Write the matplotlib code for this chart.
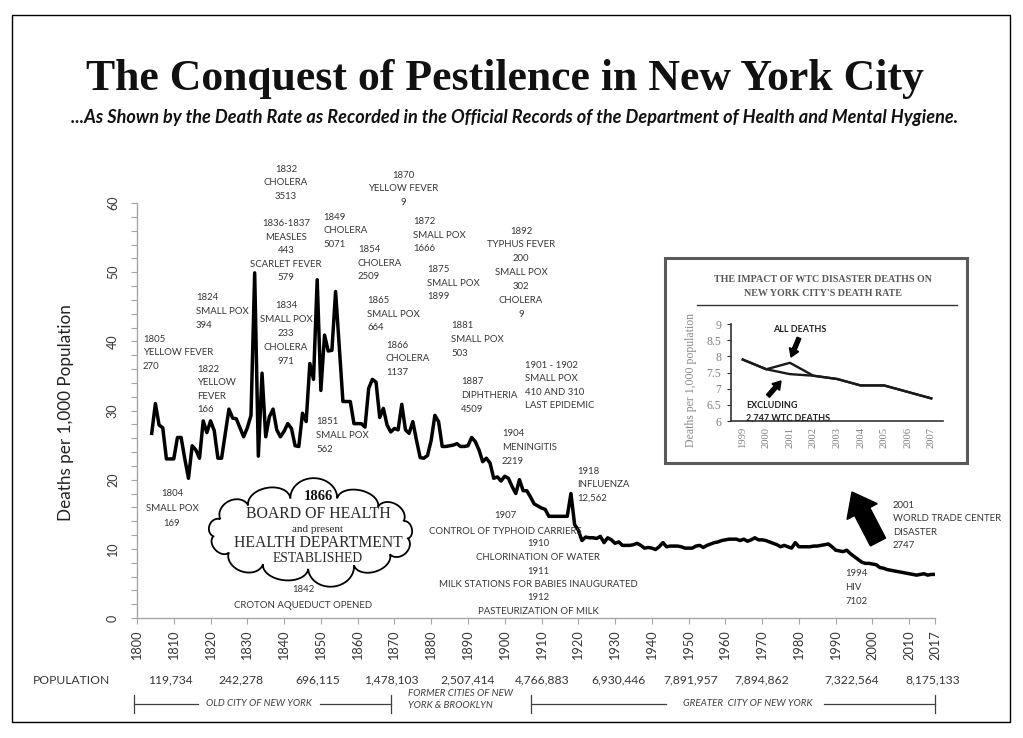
import matplotlib
matplotlib.use('Agg')
import matplotlib.pyplot as plt
import numpy as np
from matplotlib.path import Path
from matplotlib.patches import PathPatch, FancyArrow, Rectangle

# ---------------- data ----------------
years = [1804, 1805, 1806, 1807, 1808, 1809, 1810, 1811, 1812, 1813, 1814, 1815,
         1816, 1817, 1818, 1819, 1820, 1821, 1822, 1823, 1825, 1826, 1827, 1828,
         1829, 1830, 1831, 1832, 1833, 1834, 1835, 1836, 1837, 1838, 1839, 1840,
         1841, 1842, 1843, 1844, 1845, 1846, 1847, 1848, 1849, 1850, 1851, 1852,
         1853, 1854, 1855, 1856, 1857, 1858, 1859, 1860, 1861, 1862, 1863, 1864,
         1865, 1866, 1867, 1868, 1869, 1870, 1871, 1872, 1873, 1874, 1875, 1876,
         1877, 1878, 1879, 1880, 1881, 1882, 1883, 1884, 1885, 1886, 1887, 1888,
         1889, 1890, 1891, 1892, 1893, 1894, 1895, 1896, 1897, 1898, 1899, 1900,
         1901, 1902, 1903, 1904, 1905, 1906, 1907, 1908, 1909, 1910, 1911, 1912,
         1913, 1914, 1915, 1916, 1917, 1918, 1919, 1920, 1921, 1922, 1923, 1924,
         1925, 1926, 1927, 1928, 1929, 1930, 1931, 1932, 1933, 1934, 1935, 1936,
         1937, 1938, 1939, 1940, 1941, 1942, 1943, 1944, 1945, 1946, 1947, 1948,
         1949, 1950, 1951, 1952, 1953, 1954, 1955, 1956, 1957, 1958, 1959, 1960,
         1961, 1962, 1963, 1964, 1965, 1966, 1967, 1968, 1969, 1970, 1971, 1972,
         1973, 1974, 1975, 1976, 1977, 1978, 1979, 1980, 1981, 1982, 1983, 1984,
         1985, 1986, 1987, 1988, 1989, 1990, 1991, 1992, 1993, 1994, 1995, 1996,
         1997, 1998, 1999, 2000, 2001, 2002, 2003, 2004, 2005, 2006, 2007, 2008,
         2009, 2010, 2011, 2012, 2013, 2014, 2015, 2016, 2017]
rates = [26.7, 31.0, 27.9, 27.5, 23.0, 23.0, 23.0, 26.1, 26.1, 23.0, 20.2, 24.9,
         24.3, 23.1, 28.5, 26.8, 28.5, 27.1, 23.1, 23.1, 30.2, 28.9, 28.8, 27.5,
         26.2, 27.5, 29.3, 49.9, 23.4, 35.4, 26.2, 29.1, 30.2, 27.2, 26.2, 27.0,
         28.1, 27.4, 24.9, 24.8, 29.6, 28.4, 36.8, 34.5, 48.9, 32.9, 40.9, 38.6,
         38.7, 47.2, 39.2, 31.3, 31.3, 31.3, 28.1, 28.1, 28.1, 27.6, 33.2, 34.5,
         34.1, 29.0, 30.3, 27.9, 26.9, 27.4, 27.2, 30.9, 27.2, 26.7, 28.4, 25.7,
         23.2, 23.1, 23.5, 25.7, 29.3, 28.4, 24.8, 24.8, 24.9, 25.0, 25.2, 24.8,
         24.8, 24.9, 26.1, 25.5, 24.3, 22.6, 23.1, 22.4, 20.2, 20.4, 19.8, 20.5,
         20.2, 19.0, 18.0, 20.0, 18.4, 18.4, 17.5, 16.5, 16.2, 15.9, 15.7, 14.7,
         14.7, 14.7, 14.7, 14.7, 14.7, 18.0, 13.5, 12.7, 11.2, 11.7, 11.6, 11.6,
         11.5, 11.8, 10.9, 11.6, 11.3, 10.8, 11.0, 10.5, 10.5, 10.5, 10.6, 10.8,
         10.5, 10.1, 10.2, 10.1, 9.9, 10.3, 10.9, 10.3, 10.4, 10.4, 10.4, 10.3,
         10.1, 10.1, 10.1, 10.4, 10.5, 10.2, 10.5, 10.7, 10.9, 11.0, 11.2, 11.3,
         11.4, 11.4, 11.4, 11.2, 11.4, 11.1, 11.3, 11.6, 11.3, 11.3, 11.2, 11.0,
         10.8, 10.6, 10.3, 10.5, 10.3, 10.1, 10.9, 10.3, 10.3, 10.3, 10.3, 10.4,
         10.4, 10.5, 10.6, 10.7, 10.3, 9.8, 9.7, 9.6, 9.8, 9.3, 8.9, 8.5,
         8.1, 7.9, 7.9, 7.8, 7.7, 7.3, 7.2, 7.0, 6.9, 6.8, 6.7, 6.6,
         6.5, 6.4, 6.3, 6.2, 6.3, 6.4, 6.2, 6.3, 6.3]

x_ticks = [1800, 1810, 1820, 1830, 1840, 1850, 1860, 1870, 1880, 1890, 1900,
           1910, 1920, 1930, 1940, 1950, 1960, 1970, 1980, 1990, 2000, 2010, 2017]
y_ticks = [0, 10, 20, 30, 40, 50, 60]

inset_years = ['1999', '2000', '2001', '2002', '2003', '2004', '2005', '2006', '2007']
inset_all = [7.9, 7.6, 7.8, 7.4, 7.3, 7.1, 7.1, 6.9, 6.7]
inset_excl = [7.9, 7.6, 7.45, 7.4, 7.3, 7.1, 7.1, 6.9, 6.7]
inset_yticks = [6, 6.5, 7, 7.5, 8, 8.5, 9]
inset_ylabels = ['6', '6.5', '7', '7.5', '8', '8.5', '9']

population = ['119,734', '242,278', '696,115', '1,478,103', '2,507,414', '4,766,883',
              '6,930,446', '7,891,957', '7,894,862', '7,322,564', '8,175,133']
pop_x = [170, 241, 318, 391, 468, 542, 619, 691, 762, 852, 933]  # layout (px)

W, H = 1023, 738
fig = plt.figure(figsize=(W / 100, H / 100), dpi=100)
fig.patch.set_facecolor('white')

SANS = ['Lato', 'DejaVu Sans']
SERIF = ['Liberation Serif', 'DejaVu Serif']
TXT = '#363636'

def fx(px):
    return px / W

def fy(py):
    return 1 - py / H

# ---------------- main axes ----------------
ax = fig.add_axes([fx(137), fy(618), (935 - 137) / W, (618 - 203) / H])
ax.plot(years, rates, color='black', lw=2.5, solid_joinstyle='round')
ax.set_xlim(1800, 2017)
ax.set_ylim(0, 60)
for s in ['top', 'right']:
    ax.spines[s].set_visible(False)
for s in ['left', 'bottom']:
    ax.spines[s].set_color('#a6a6a6')
    ax.spines[s].set_linewidth(1.0)
ax.set_xticks(x_ticks)
ax.set_xticklabels([str(t) for t in x_ticks], rotation=90, fontsize=9.2,
                   family=SANS, color=TXT)
ax.set_yticks(y_ticks)
ax.set_yticklabels([str(t) for t in y_ticks], rotation=90, va='center',
                   fontsize=9, family=SANS, color=TXT)
ax.set_yticks(np.arange(0, 61, 2), minor=True)
ax.tick_params(axis='both', which='both', color='#a6a6a6', length=4, width=0.8)
ax.tick_params(axis='y', pad=9)
ax.tick_params(axis='x', pad=5)

# ---------------- inset axes ----------------
ia = fig.add_axes([fx(731), fy(421), (943 - 731) / W, (421 - 324) / H])
xi = np.arange(len(inset_years))
ia.plot(xi, inset_all, color='#1a1a1a', lw=1.7)
ia.plot(xi, inset_excl, color='#1a1a1a', lw=1.7)
ia.set_xlim(-0.5, len(inset_years) - 0.5)
ia.set_ylim(6, 9)
ia.set_xticks(xi)
ia.set_xticklabels(inset_years, rotation=90, fontsize=7.6, family=SERIF, color='#808080')
ia.set_yticks(inset_yticks)
ia.set_yticklabels(inset_ylabels, fontsize=8.5, family=SERIF, color='#808080')
for s in ['top', 'right']:
    ia.spines[s].set_visible(False)
for s in ['left', 'bottom']:
    ia.spines[s].set_color('#333333')
    ia.spines[s].set_linewidth(1.2)
ia.tick_params(axis='y', length=3, color='#333333', pad=4)
ia.tick_params(axis='x', length=0, pad=4)

# ---------------- overlay (pixel coordinates) ----------------
ov = fig.add_axes([0, 0, 1, 1])
ov.set_xlim(0, W)
ov.set_ylim(H, 0)
ov.axis('off')
ov.patch.set_alpha(0)
ov.set_zorder(10)

# outer border
ov.add_patch(Rectangle((12, 15), 998, 707, fill=False, edgecolor='black', lw=1.0))

# titles
ov.text(505, 79, 'The Conquest of Pestilence in New York City', ha='center', va='center',
        fontsize=31.5, family=SERIF, fontweight='bold', color='#111111')
ov.text(515, 118, '...As Shown by the Death Rate as Recorded in the Official Records of '
        'the Department of Health and Mental Hygiene.', ha='center', va='center',
        fontsize=13.1, family=SANS, fontweight='bold', style='italic', color='#111111')

# y label
ov.text(66, 413, 'Deaths per 1,000 Population', rotation=90, ha='center', va='center',
        fontsize=12.3, family=SANS, color='#222222')

LS = 13.6
AFS = 6.9

def block(txt, x, y, ha='left', fs=AFS, ls=LS, color=TXT, **kw):
    for i, line in enumerate(txt.split('\n')):
        ov.text(x, y + i * ls, line, ha=ha, va='center', fontsize=fs,
                family=SANS, color=color, **kw)

block('1832\nCHOLERA\n3513', 286, 169, ha='center')
block('1870\nYELLOW FEVER\n9', 403, 175, ha='center')
block('1836-1837\nMEASLES\n443\nSCARLET FEVER\n579', 286, 223.5, ha='center')
block('1849\nCHOLERA\n5071', 323, 217)
block('1854\nCHOLERA\n2509', 358, 249.5)
block('1872\nSMALL POX\n1666', 413, 221.5)
block('1892\nTYPHUS FEVER\n200\nSMALL POX\n302\nCHOLERA\n9', 521, 231, ha='center', ls=13.9)
block('1875\nSMALL POX\n1899', 427, 269.5)
block('1824\nSMALL POX\n394', 196, 298)
block('1834\nSMALL POX\n233\nCHOLERA\n971', 286, 306, ha='center', ls=13.9)
block('1865\nSMALL POX\n664', 367, 300.5)
block('1881\nSMALL POX\n503', 451, 326)
block('1805\nYELLOW FEVER\n270', 143, 339)
block('1866\nCHOLERA\n1137', 386, 345)
block('1822\nYELLOW\nFEVER\n166', 197, 369)
block('1901 - 1902\nSMALL POX\n410 AND 310\nLAST EPIDEMIC', 525, 365)
block('1887\nDIPHTHERIA\n4509', 461, 382)
block('1851\nSMALL POX\n562', 316, 422)
block('1904\nMENINGITIS\n2219', 502, 434)
block('1918\nINFLUENZA\n12,562', 577, 471)
block('1804\nSMALL POX\n169', 172, 494, ha='center', ls=14.8)
block('2001\nWORLD TRADE CENTER\nDISASTER\n2747', 893, 505)
block('1907\nCONTROL OF TYPHOID CARRIERS', 505, 516, ha='center', ls=15)
block('1910\nCHLORINATION OF WATER\n1911\nMILK STATIONS FOR BABIES INAUGURATED\n1912\n'
      'PASTEURIZATION OF MILK', 538, 544, ha='center', ls=13.5)
block('1994\nHIV\n7102', 845, 574)
block('1842\nCROTON AQUEDUCT OPENED', 303, 590, ha='center', ls=15)

# cloud
def cloud_verts(cx, cy, rx, ry, n, bulge, phase):
    ang = np.linspace(0, 2 * np.pi, n + 1) + phase
    pts = np.column_stack([cx + rx * np.cos(ang), cy + ry * np.sin(ang)])
    out = []
    for i in range(n):
        p0, p1 = pts[i], pts[i + 1]
        mid = (p0 + p1) / 2
        r = np.linalg.norm(p1 - p0) / 2
        u = (p0 - mid) / r
        nrm = np.array([u[1], -u[0]])
        if np.dot(nrm, mid - np.array([cx, cy])) < 0:
            nrm = -nrm
        t = np.linspace(0, np.pi, 24)
        h = bulge[i % len(bulge)] * r
        seg = mid + np.outer(np.cos(t), u) * r + np.outer(np.sin(t), nrm) * h
        out.append(seg)
    return np.vstack(out)

cv = cloud_verts(311, 533, 98, 36, 13, [0.8, 0.65, 0.85, 0.6, 0.75, 0.7, 0.85], 0.15)
codes = [Path.MOVETO] + [Path.LINETO] * (len(cv) - 2) + [Path.CLOSEPOLY]
ov.add_patch(PathPatch(Path(cv, codes), facecolor='white', edgecolor='black', lw=1.3))
CT = '#2a2a2a'
ov.text(318, 497, '1866', ha='center', va='center', fontsize=10.5, family=SERIF,
        fontweight='bold', color='#111111')
ov.text(318, 514, 'BOARD OF HEALTH', ha='center', va='center', fontsize=11.3,
        family=SERIF, color=CT)
ov.text(318, 530, 'and present', ha='center', va='center', fontsize=8,
        family=SERIF, color=CT)
ov.text(318, 543, 'HEALTH DEPARTMENT', ha='center', va='center', fontsize=11.3,
        family=SERIF, color=CT)
ov.text(318, 559, 'ESTABLISHED', ha='center', va='center', fontsize=9.8,
        family=SERIF, color=CT)

# big WTC arrow
ov.add_patch(FancyArrow(878, 542, -26, -50, width=17, head_width=34, head_length=22,
                        length_includes_head=True, color='black'))

# inset frame and texts
ov.add_patch(Rectangle((665, 258), 302, 205, fill=False, edgecolor='#5a5a5a', lw=2.2))
ov.text(823, 280, 'THE IMPACT OF WTC DISASTER DEATHS ON', ha='center', va='center',
        fontsize=7.2, family=SERIF, fontweight='bold', color='#595959')
ov.text(823, 293, "NEW YORK CITY'S DEATH RATE", ha='center', va='center',
        fontsize=7.2, family=SERIF, fontweight='bold', color='#595959')
ov.plot([697, 957], [305, 305], color='#333333', lw=1.0)
ov.text(691, 380, 'Deaths per 1,000 population', rotation=90, ha='center', va='center',
        fontsize=8.5, family=SERIF, color='#8a8a8a')
ov.text(800, 330, 'ALL DEATHS', ha='center', va='center', fontsize=6.5, family=SANS,
        fontweight='bold', color='#222222')
ov.add_patch(FancyArrow(799, 338, -8, 19, width=4, head_width=10, head_length=8,
                        length_includes_head=True, color='black'))
ov.text(746, 405, 'EXCLUDING', ha='left', va='center', fontsize=6.5, family=SANS,
        fontweight='bold', color='#222222')
ov.text(746, 418, '2,747 WTC DEATHS', ha='left', va='center', fontsize=6.5, family=SANS,
        fontweight='bold', color='#222222')
ov.add_patch(FancyArrow(768, 396, 13, -15, width=4, head_width=10, head_length=8,
                        length_includes_head=True, color='black'))

# population row
ov.text(33, 680, 'POPULATION', ha='left', va='center', fontsize=8.7, family=SANS, color=TXT)
for lab, px in zip(population, pop_x):
    ov.text(px, 680, lab, ha='center', va='center', fontsize=8.7, family=SANS, color=TXT)

BR = '#404040'
def bracket(x0, x1, gap0, gap1, y=704):
    ov.plot([x0, gap0], [y, y], color=BR, lw=0.9)
    ov.plot([gap1, x1], [y, y], color=BR, lw=0.9)
    ov.plot([x0, x0], [695, 713], color=BR, lw=0.9)
    ov.plot([x1, x1], [695, 713], color=BR, lw=0.9)

bracket(134, 391, 198, 320)
ov.text(259, 704, 'OLD CITY OF NEW YORK', ha='center', va='center', fontsize=7,
        family=SANS, style='italic', color=BR)
ov.text(408, 693, 'FORMER CITIES OF NEW', ha='left', va='center', fontsize=7,
        family=SANS, style='italic', color=BR)
ov.text(408, 706, 'YORK & BROOKLYN', ha='left', va='center', fontsize=7,
        family=SANS, style='italic', color=BR)
bracket(531, 935, 666, 824)
ov.text(748, 704, 'GREATER  CITY OF NEW YORK', ha='center', va='center', fontsize=7,
        family=SANS, style='italic', color=BR)

fig.savefig('out.png', dpi=100, facecolor='white')
